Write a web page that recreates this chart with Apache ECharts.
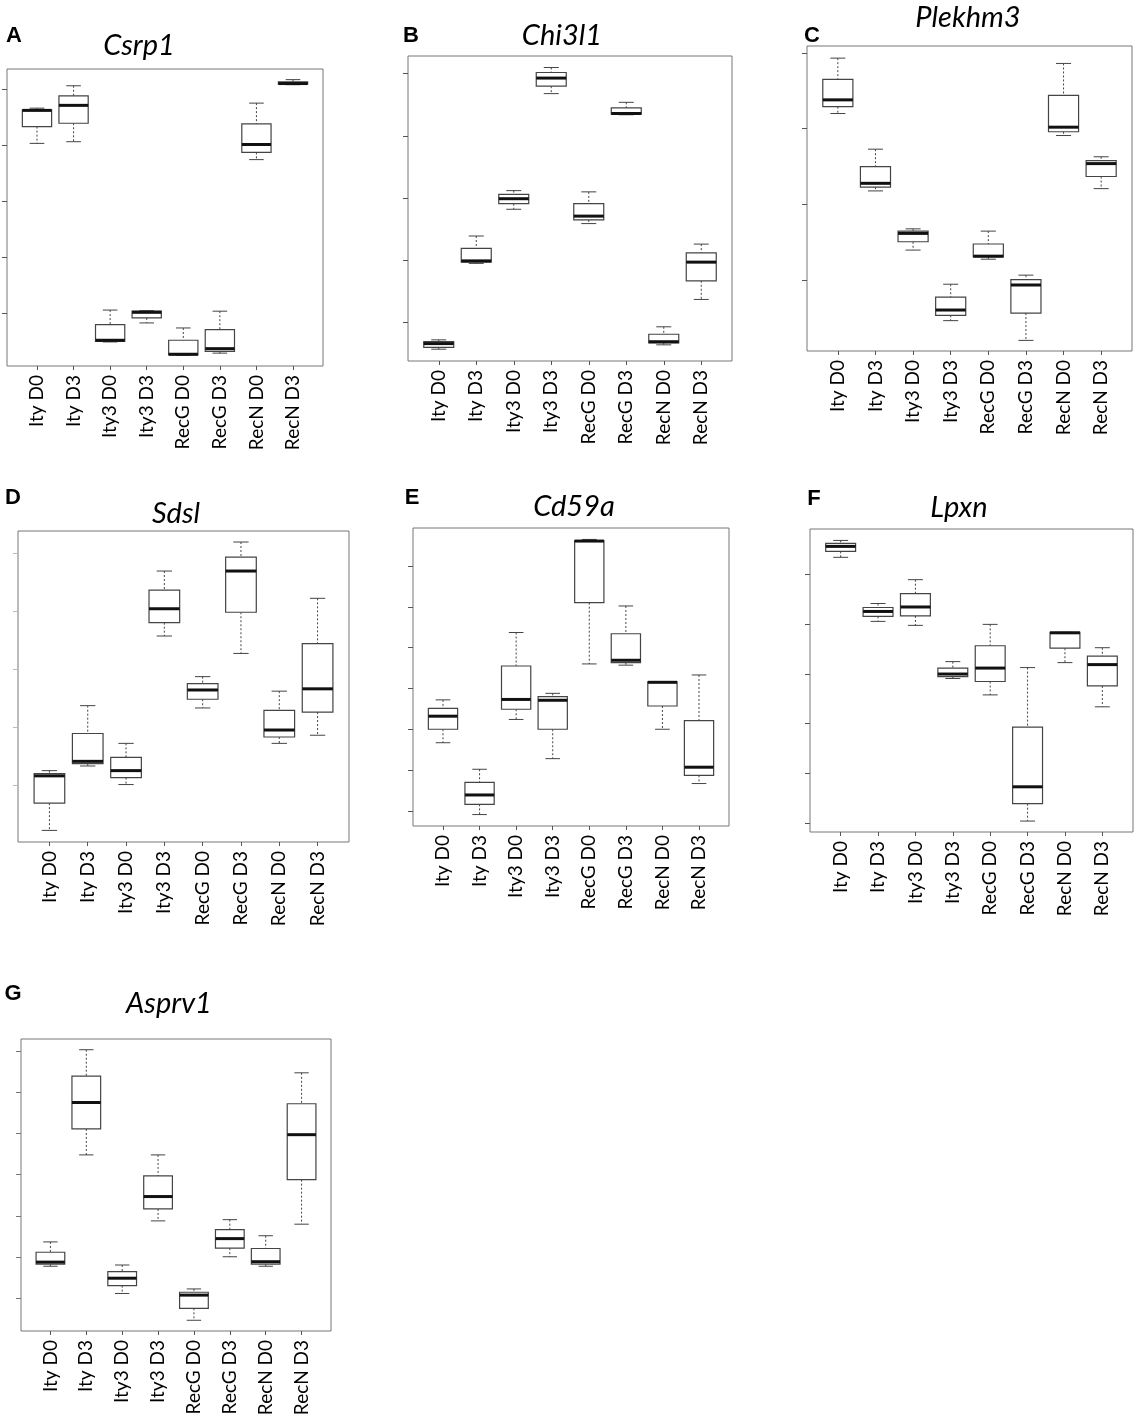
<!DOCTYPE html>
<html lang="en">
<head>
<meta charset="UTF-8">
<title>Boxplots</title>
<style>html,body{margin:0;padding:0;background:#fff;}</style>
</head>
<body>
<div id="main" style="width:1138px;height:1425px;"></div>
<script src="https://cdn.jsdelivr.net/npm/echarts@6/dist/echarts.min.js"></script>
<script>
var groups = ['Ity D0', 'Ity D3', 'Ity3 D0', 'Ity3 D3', 'RecG D0', 'RecG D3', 'RecN D0', 'RecN D3'];

// [min, Q1, median, Q3, max] per group
// (axes have no readable labels, so the unit is one tick step)
var csrp1 = [
    [4.03, 4.33, 4.62, 4.63, 4.66],
    [4.06, 4.39, 4.71, 4.88, 5.06],
    [0.48, 0.49, 0.51, 0.79, 1.05],
    [0.82, 0.91, 1.01, 1.03, 1.04],
    [0.24, 0.25, 0.26, 0.51, 0.73],
    [0.28, 0.31, 0.36, 0.70, 1.03],
    [3.74, 3.87, 4.01, 4.38, 4.75],
    [5.08, 5.09, 5.10, 5.13, 5.17]
];
var chi3l1 = [
    [0.57, 0.60, 0.66, 0.69, 0.72],
    [1.95, 1.97, 1.99, 2.19, 2.39],
    [2.82, 2.91, 2.99, 3.06, 3.12],
    [4.68, 4.80, 4.93, 5.02, 5.10],
    [2.59, 2.65, 2.71, 2.91, 3.10],
    [4.34, 4.35, 4.36, 4.45, 4.54],
    [0.64, 0.67, 0.69, 0.81, 0.93],
    [1.37, 1.67, 1.97, 2.12, 2.26]
];
var plekhm3 = [
    [3.20, 3.29, 3.38, 3.65, 3.93],
    [2.18, 2.23, 2.28, 2.50, 2.73],
    [1.40, 1.51, 1.62, 1.65, 1.68],
    [0.47, 0.54, 0.61, 0.78, 0.95],
    [1.28, 1.31, 1.32, 1.48, 1.65],
    [0.21, 0.57, 0.94, 1.01, 1.07],
    [2.91, 2.96, 3.02, 3.44, 3.86],
    [2.21, 2.37, 2.54, 2.58, 2.63]
];
var sdsl = [
    [0.22, 0.69, 1.16, 1.20, 1.25],
    [1.33, 1.37, 1.41, 1.89, 2.37],
    [1.01, 1.13, 1.25, 1.48, 1.72],
    [3.57, 3.80, 4.04, 4.36, 4.69],
    [2.33, 2.48, 2.64, 2.75, 2.87],
    [3.27, 3.98, 4.69, 4.93, 5.19],
    [1.72, 1.83, 1.95, 2.29, 2.62],
    [1.86, 2.26, 2.66, 3.44, 4.22]
];
var cd59a = [
    [2.67, 3.00, 3.32, 3.51, 3.72],
    [0.91, 1.16, 1.39, 1.70, 2.02],
    [3.24, 3.49, 3.73, 4.55, 5.37],
    [2.28, 3.00, 3.71, 3.80, 3.88],
    [4.60, 6.10, 7.61, 7.62, 7.65],
    [4.57, 4.63, 4.69, 5.34, 6.02],
    [3.00, 3.57, 4.15, 4.16, 4.17],
    [1.67, 1.87, 2.07, 3.21, 4.33]
];
var lpxn = [
    [6.35, 6.47, 6.57, 6.63, 6.69],
    [5.06, 5.16, 5.26, 5.34, 5.42],
    [4.98, 5.17, 5.35, 5.62, 5.90],
    [3.91, 3.95, 4.00, 4.12, 4.25],
    [3.58, 3.85, 4.12, 4.57, 5.00],
    [1.04, 1.39, 1.73, 2.93, 4.13],
    [4.23, 4.52, 4.83, 4.84, 4.84],
    [3.34, 3.76, 4.19, 4.36, 4.53]
];
var asprv1 = [
    [1.78, 1.83, 1.88, 2.12, 2.37],
    [4.48, 5.11, 5.75, 6.39, 7.03],
    [1.12, 1.31, 1.49, 1.65, 1.81],
    [2.88, 3.17, 3.47, 3.97, 4.48],
    [0.47, 0.76, 1.08, 1.15, 1.23],
    [2.01, 2.22, 2.45, 2.67, 2.91],
    [1.78, 1.83, 1.89, 2.21, 2.52],
    [2.80, 3.88, 4.97, 5.72, 6.47]
];

// tick positions on each y axis
var ticks5 = [1, 2, 3, 4, 5];
var ticks4 = [1, 2, 3, 4];
var ticks6 = [1, 2, 3, 4, 5, 6];
var ticks7 = [1, 2, 3, 4, 5, 6, 7];

// layout of the panels: frame box [left, top, width, height], title and letter positions
var panels = [
    { gene: 'Csrp1', letter: 'A', stats: csrp1, ticks: ticks5, yMin: 0.05, yMax: 5.36,
      box: [7, 69, 316, 297], title: [139, 46], tag: [14, 36], tickColor: '#555' },
    { gene: 'Chi3l1', letter: 'B', stats: chi3l1, ticks: ticks5, yMin: 0.38, yMax: 5.285,
      box: [408, 56, 324, 305], title: [562, 36], tag: [411, 36], tickColor: '#555' },
    { gene: 'Plekhm3', letter: 'C', stats: plekhm3, ticks: ticks4, yMin: 0.07, yMax: 4.09,
      box: [807, 46, 325, 305], title: [968, 18], tag: [812, 36], tickColor: '#555' },
    { gene: 'Sdsl', letter: 'D', stats: sdsl, ticks: ticks5, yMin: 0.02, yMax: 5.38,
      box: [18, 531, 331, 311], title: [176, 514], tag: [13, 498], tickColor: '#bbb' },
    { gene: 'Cd59a', letter: 'E', stats: cd59a, ticks: ticks7, yMin: 0.63, yMax: 7.93,
      box: [413, 528, 316, 298], title: [574, 507], tag: [412, 498], tickColor: '#555' },
    { gene: 'Lpxn', letter: 'F', stats: lpxn, ticks: ticks6, yMin: 0.82, yMax: 6.92,
      box: [810, 529, 323, 303], title: [959, 508], tag: [814, 499], tickColor: '#555' },
    { gene: 'Asprv1', letter: 'G', stats: asprv1, ticks: ticks7, yMin: 0.21, yMax: 7.29,
      box: [21, 1039, 310, 292], title: [169, 1004], tag: [13, 994], tickColor: '#777' }
];

var myChart = echarts.init(document.getElementById('main'));

// R style box: dotted whiskers, half width caps, thick median
function renderBox(params, api) {
    var i = api.value(0);
    var x = api.coord([i, api.value(3)])[0];
    var yMin = api.coord([i, api.value(1)])[1];
    var yQ1 = api.coord([i, api.value(2)])[1];
    var yMed = api.coord([i, api.value(3)])[1];
    var yQ3 = api.coord([i, api.value(4)])[1];
    var yMax = api.coord([i, api.value(5)])[1];
    var band = api.size([1, 0])[0];
    var hw = band * 0.4;
    var cw = band * 0.2;
    var dotted = { stroke: '#444', lineWidth: 1, lineDash: [2, 2] };
    var solid = { stroke: '#444', lineWidth: 1 };
    return {
        type: 'group',
        children: [
            { type: 'line', shape: { x1: x, y1: yMax, x2: x, y2: yQ3 }, style: dotted },
            { type: 'line', shape: { x1: x, y1: yQ1, x2: x, y2: yMin }, style: dotted },
            { type: 'line', shape: { x1: x - cw, y1: yMax, x2: x + cw, y2: yMax }, style: solid },
            { type: 'line', shape: { x1: x - cw, y1: yMin, x2: x + cw, y2: yMin }, style: solid },
            { type: 'rect', shape: { x: x - hw, y: yQ3, width: hw * 2, height: yQ1 - yQ3 },
              style: { fill: '#fff', stroke: '#444', lineWidth: 1.2 } },
            { type: 'line', shape: { x1: x - hw, y1: yMed, x2: x + hw, y2: yMed },
              style: { stroke: '#111', lineWidth: 3 } }
        ]
    };
}

var grid = [], xAxis = [], yAxis = [], series = [], graphic = [];
var inset = 0.32 / 8.64; // R extends xlim by 4% on each side

panels.forEach(function (p, k) {
    var l = p.box[0], t = p.box[1], w = p.box[2], h = p.box[3];
    // frame grid, carries the y ticks
    grid.push({ left: l, top: t, width: w, height: h, show: true, borderColor: '#777', borderWidth: 1,
        backgroundColor: 'transparent', outerBoundsMode: 'none' });
    xAxis.push({ gridIndex: 2 * k, type: 'value', min: 0, max: 1, show: false });
    yAxis.push({
        gridIndex: 2 * k, type: 'value', min: p.yMin, max: p.yMax,
        axisLine: { show: false },
        axisTick: { show: true, length: 5, customValues: p.ticks, lineStyle: { color: p.tickColor } },
        axisLabel: { show: false },
        splitLine: { show: false }
    });
    // data grid, category band 0.5..8.5
    grid.push({ left: l + w * inset, top: t, width: w * (1 - 2 * inset), height: h, outerBoundsMode: 'none' });
    xAxis.push({
        gridIndex: 2 * k + 1, type: 'category', data: groups,
        axisLine: { show: false },
        axisTick: { show: true, alignWithLabel: true, length: 4, lineStyle: { color: '#555' } },
        axisLabel: { rotate: 90, fontSize: 19, fontFamily: 'Lato', color: '#000', margin: 9, interval: 0 },
        splitLine: { show: false }
    });
    yAxis.push({ gridIndex: 2 * k + 1, type: 'value', min: p.yMin, max: p.yMax, show: false });
    series.push({
        type: 'custom',
        name: p.gene,
        xAxisIndex: 2 * k + 1,
        yAxisIndex: 2 * k + 1,
        renderItem: renderBox,
        encode: { x: 0, y: [1, 2, 3, 4, 5] },
        data: p.stats.map(function (s, i) { return [i].concat(s); }),
        silent: true
    });
    graphic.push({
        type: 'text', x: p.title[0], y: p.title[1],
        style: { text: p.gene, font: 'italic 29px Lato', fill: '#000', align: 'center', verticalAlign: 'middle' }
    });
    graphic.push({
        type: 'text', x: p.tag[0], y: p.tag[1],
        style: { text: p.letter, font: 'bold 22px "Liberation Sans"', fill: '#000', align: 'center', verticalAlign: 'middle' }
    });
});

var option = {
    backgroundColor: '#fff',
    animation: false,
    grid: grid,
    xAxis: xAxis,
    yAxis: yAxis,
    series: series,
    graphic: graphic
};

myChart.setOption(option);
</script>
</body>
</html>
